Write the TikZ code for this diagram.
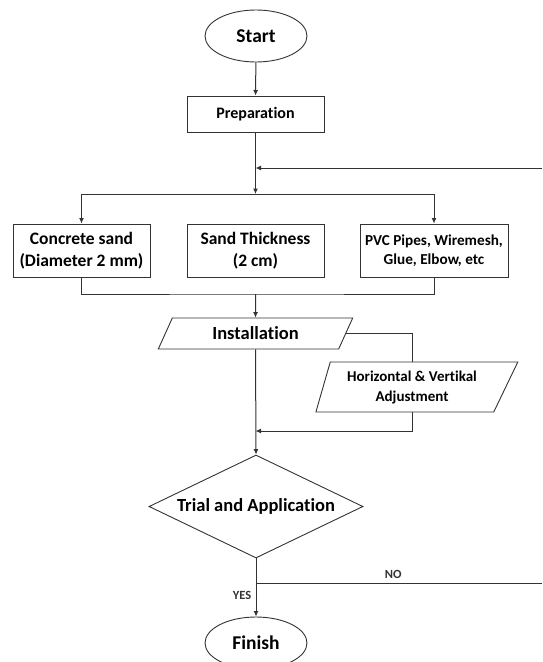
\documentclass[tikz,border=0pt]{standalone}
\usepackage{fontspec}
\setmainfont[Ligatures=NoCommon]{Carlito}
\usetikzlibrary{shapes.geometric,arrows.meta}
\begin{document}
\begin{tikzpicture}[x=1pt,y=-1pt,
  line/.style={draw=black!80, line width=1pt},
  arr/.style={line, -{Latex[length=5.5pt,width=5pt]}},
  term/.style={ellipse, draw=black!80, line width=0.9pt, minimum width=102pt, minimum height=52pt, inner sep=0pt, font=\fontsize{19.5}{22}\selectfont\bfseries},
  procbox/.style={rectangle, draw=black!80, line width=1pt, inner sep=0pt, align=center, minimum height=53pt, minimum width=137pt, font=\fontsize{17.5}{22}\selectfont\bfseries},
  iobox/.style={trapezium, trapezium stretches=true, draw=black!80, line width=0.9pt, inner sep=0pt, align=center},
  decision/.style={diamond, draw=black!80, line width=0.9pt, inner sep=0pt, aspect=2.08, minimum width=214pt, minimum height=103pt, font=\fontsize{18.5}{22}\selectfont\bfseries},
  lbl/.style={font=\fontsize{12.5}{14}\selectfont\bfseries, text=black!80}
]
\useasboundingbox (0,0) rectangle (542,662);

\node[term] (start) at (256,36) {Start};
\node[procbox, minimum height=36pt, font=\fontsize{16}{19}\selectfont\bfseries] (prep) at (255.5,114) {Preparation};
\node[procbox] (sand) at (81.5,250.5) {Concrete sand\\(Diameter 2 mm)};
\node[procbox] (thick) at (255.5,250.5) {Sand Thickness\\(2 cm)};
\node[procbox, minimum width=148pt, font=\fontsize{15.2}{19}\selectfont\bfseries] (pvc) at (434,250.5) {PVC Pipes, Wiremesh,\\Glue, Elbow, etc};
\node[iobox, trapezium left angle=61, trapezium right angle=119, minimum width=195pt, minimum height=31pt, font=\fontsize{18.5}{22}\selectfont\bfseries] (inst) at (255.5,333.5) {Installation};
\node[iobox, trapezium left angle=71, trapezium right angle=120, minimum width=202pt, minimum height=50pt, font=\fontsize{15}{20}\selectfont\bfseries] (adj) at (412,387) {Horizontal \& Vertikal\\Adjustment};
\node[decision] (trial) at (256,506.5) {Trial and Application};
\node[term] (finish) at (256,643) {Finish};

\coordinate (split) at (255.5,194);
\coordinate (fb) at (542,168);
\coordinate (merge) at (255.5,294);
\coordinate (join) at (255.5,431);
\coordinate (no) at (256,583);
\coordinate (noend) at (542,583);

\draw[arr] (start) -- (prep);
\draw[arr] (prep) -- (split);
\draw[line] (sand.north |- split) -- (pvc.north |- split);
\draw[arr] (sand.north |- split) -- (sand.north);
\draw[arr] (pvc.north |- split) -- (pvc.north);
\draw[arr] (fb) -- (fb -| prep.south);
\draw[line] (sand.south) |- (merge) -| (pvc.south);
\draw[arr] (merge) -- (inst.north);
\draw[line] (inst.east) -| (adj.north);
\draw[arr] (adj.south) |- (join);
\draw[arr] (inst.south) -- (trial.north);
\draw[arr] (trial.south) -- (finish.north) node[pos=0.64, left=1pt, lbl] {YES};
\draw[line] (no) -- (noend) node[pos=0.48, above=1pt, lbl] {NO};
\end{tikzpicture}
\end{document}
